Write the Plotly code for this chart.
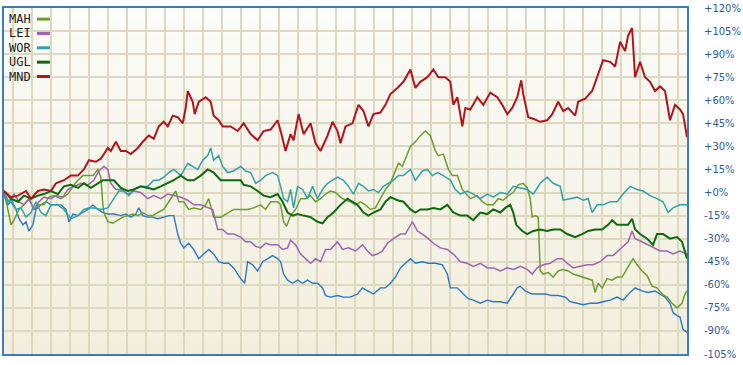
import plotly.graph_objects as go

# ---- data: x = trading-day index, y = % change ----
mnd_x = [1,8,15,23,28,35,41,48,53,61,68,75,81,86,93,98,105,108,113,118,123,128,135,140,146,151,156,161,165,170,175,180,183,185,190,192,196,203,208,211,216,220,228,235,241,248,255,261,268,275,278,283,288,291,296,301,308,313,318,325,330,335,338,343,350,356,361,366,371,378,383,388,395,401,408,413,418,425,431,436,443,448,451,455,460,463,468,475,481,488,495,500,505,510,515,519,521,526,531,538,545,550,556,561,566,573,576,583,590,595,601,608,613,618,623,626,630,633,638,643,648,653,658,663,668,673,678,681,685]
mnd_y = [1,-3,-2,1,-4,1,2,1,6,8,11,11,15,21,20,22,29,27,33,27,27,25,29,33,37,35,43,46,43,50,49,45,55,66,59,51,59,62,59,50,47,43,43,40,45,38,34,40,41,47,40,27,38,34,51,38,45,32,27,37,46,40,32,43,45,57,53,43,51,52,57,64,68,72,80,68,72,75,80,75,75,72,57,62,43,55,54,62,57,65,62,57,51,55,62,73,64,49,48,46,47,51,59,53,55,50,59,61,66,75,86,85,82,98,92,102,107,75,85,75,72,66,69,66,47,57,54,51,36]

ugl_x = [1,8,15,21,28,35,41,48,55,61,68,75,81,88,95,100,105,111,118,125,131,138,145,151,158,165,171,178,185,191,198,205,211,218,225,231,238,241,248,255,261,268,275,280,285,290,295,301,308,315,320,325,331,338,345,350,355,361,366,371,378,383,388,395,401,408,413,418,425,431,438,445,451,458,465,471,478,485,491,498,503,508,511,514,520,525,531,538,545,551,558,565,573,580,586,593,600,606,610,615,621,626,630,633,638,645,651,655,661,668,675,680,685]
ugl_y = [1,-4,-6,-2,-4,-2,-1,1,-1,4,5,3,6,3,6,8,8,8,3,1,2,4,3,2,4,6,8,11,8,8,11,15,13,8,8,8,8,5,4,1,-2,-3,-1,-6,-13,-15,-14,-15,-16,-19,-20,-16,-13,-8,-4,-6,-8,-13,-15,-13,-11,-6,-3,-5,-6,-11,-13,-11,-11,-10,-11,-8,-13,-15,-15,-18,-13,-14,-11,-13,-10,-8,-13,-21,-25,-27,-25,-24,-25,-24,-24,-27,-29,-27,-25,-24,-24,-21,-18,-21,-21,-21,-17,-24,-27,-30,-34,-27,-27,-30,-29,-32,-43]

wor_x = [1,5,8,13,18,23,28,33,38,43,48,55,61,68,75,81,86,91,98,105,111,116,121,126,131,138,145,151,156,161,166,171,178,185,190,195,200,205,208,211,216,220,225,231,238,243,248,253,258,263,270,275,278,281,285,288,291,295,300,305,310,315,320,325,330,335,341,346,351,356,361,366,371,376,381,386,391,396,401,408,413,420,425,430,435,441,448,453,458,465,471,478,485,491,498,505,511,518,525,531,538,545,551,558,561,568,575,581,586,590,595,601,608,615,621,628,635,641,648,655,661,666,671,678,685]
wor_y = [-2,-6,-4,-11,-10,-16,-13,-6,-13,-15,-8,-8,-11,-17,-15,-11,-10,-10,-11,-10,-4,1,1,-2,2,4,4,8,8,10,13,15,11,19,17,15,21,24,29,21,24,17,13,14,17,14,13,6,8,11,13,11,4,-4,-6,2,-10,4,2,-4,4,-4,2,6,8,10,8,4,-1,6,4,1,2,0,4,6,8,11,11,15,8,14,15,11,13,11,8,2,-1,1,-1,-4,-1,-3,0,-1,4,3,2,-1,6,10,6,4,-5,-4,-3,-5,-4,-13,-8,-8,-6,-6,-1,4,2,1,-2,-4,-6,-13,-10,-8,-8]

lei_x = [1,6,11,16,21,26,31,36,41,48,53,60,65,71,78,85,91,96,101,105,108,113,118,125,131,138,145,151,158,165,171,178,185,191,198,205,210,215,220,225,231,238,243,248,253,258,263,268,275,280,285,288,293,298,303,308,313,318,323,328,335,340,346,353,360,365,370,375,380,385,391,398,403,410,415,420,426,431,438,445,451,458,465,471,478,485,491,498,505,511,518,525,530,535,541,548,555,560,565,571,578,585,591,598,605,611,616,621,626,630,633,640,646,651,658,665,671,678,685]
lei_y = [0,-6,-1,-6,-8,-4,-11,-6,-3,-4,-2,-3,2,4,6,5,8,14,17,15,6,2,2,-1,1,0,-4,-2,-4,-1,-2,-3,-5,-8,-8,-10,-11,-24,-24,-27,-27,-29,-32,-32,-35,-36,-33,-34,-34,-37,-36,-31,-34,-40,-43,-46,-43,-45,-37,-37,-32,-37,-36,-38,-34,-38,-41,-40,-38,-33,-30,-27,-27,-19,-25,-27,-30,-33,-36,-37,-40,-45,-46,-48,-46,-49,-49,-51,-49,-50,-48,-50,-53,-49,-47,-46,-43,-43,-46,-49,-48,-47,-47,-45,-41,-41,-38,-35,-32,-25,-30,-32,-34,-36,-38,-38,-40,-38,-40]

mah_x = [1,5,8,11,16,21,26,31,36,41,46,51,58,65,70,75,80,85,90,95,98,100,101,105,110,115,120,125,130,135,140,145,150,155,161,166,170,173,176,181,186,191,198,203,206,211,218,225,231,238,245,251,258,263,268,275,278,281,284,288,293,298,303,308,313,318,323,328,333,338,343,348,353,358,363,368,373,378,383,388,393,396,400,403,408,413,418,423,428,433,436,441,446,450,455,460,465,468,475,480,485,491,496,501,506,511,516,521,525,528,530,533,536,538,541,546,551,556,561,566,571,576,581,586,590,593,596,600,605,610,615,620,625,628,631,635,640,645,650,655,660,665,670,675,680,683,685]
mah_y = [1,-13,-21,-18,-11,-8,-4,-11,-8,-8,-3,-2,-4,-1,4,8,11,11,11,15,10,-8,-13,-19,-20,-18,-16,-15,-14,-15,-13,-15,-15,-13,-11,-6,-2,1,-6,-6,-11,-10,-11,-8,-4,-16,-16,-13,-11,-11,-11,-10,-8,-11,-6,-6,-8,-19,-22,-15,-11,-4,-4,-2,-6,-4,-1,1,0,-3,-5,-6,-8,-6,-8,-11,-10,-4,2,6,14,19,17,22,30,33,37,40,37,27,24,25,15,11,11,2,-2,-4,-2,-6,-8,-8,-4,-5,-2,0,5,6,3,-4,-16,-15,-16,-51,-53,-52,-55,-51,-50,-51,-53,-54,-55,-56,-57,-65,-59,-62,-56,-57,-55,-55,-49,-46,-43,-47,-51,-54,-61,-62,-66,-68,-72,-75,-72,-66,-64]

idx_x = [1,5,8,13,16,20,23,26,30,33,38,43,48,53,58,63,66,70,75,80,85,90,95,100,105,111,118,123,128,133,136,140,145,150,155,161,166,171,175,178,181,186,191,196,201,206,211,216,221,226,231,235,238,242,245,250,255,260,265,270,275,278,281,285,290,295,300,305,310,315,320,323,328,335,341,348,355,360,365,371,378,383,388,393,398,403,408,413,420,426,433,440,445,448,455,461,466,471,478,485,491,498,505,510,515,518,523,530,536,543,550,556,563,568,575,581,588,595,601,608,615,621,628,633,640,646,653,658,663,668,671,675,678,681,685]
idx_y = [-2,-8,-6,-11,-17,-21,-19,-25,-21,-11,-8,-6,-8,-8,-8,-11,-19,-14,-15,-13,-11,-8,-11,-13,-14,-14,-15,-14,-16,-14,-10,-15,-16,-16,-17,-16,-15,-15,-27,-33,-36,-33,-37,-43,-40,-37,-40,-45,-46,-46,-49,-53,-56,-59,-45,-47,-51,-45,-43,-41,-43,-45,-53,-57,-59,-57,-59,-57,-59,-59,-62,-67,-68,-67,-68,-68,-66,-62,-64,-66,-62,-62,-59,-55,-49,-46,-43,-46,-45,-46,-46,-47,-53,-62,-62,-66,-69,-70,-72,-70,-71,-71,-72,-67,-62,-61,-64,-66,-66,-66,-67,-67,-68,-71,-72,-73,-72,-72,-71,-70,-68,-70,-65,-62,-64,-65,-64,-66,-68,-72,-78,-80,-81,-89,-91]

tick_vals = [120, 105, 90, 75, 60, 45, 30, 15, 0, -15, -30, -45, -60, -75, -90, -105]
tick_text = ["+120%", "+105%", "+90%", "+75%", "+60%", "+45%", "+30%", "+15%", "+0%",
             "-15%", "-30%", "-45%", "-60%", "-75%", "-90%", "-105%"]
legend_names = ["MAH", "LEI", "WOR", "UGL", "MND"]

colors = {"MAH": "#6b9e2c", "LEI": "#a063b3", "WOR": "#31a2a8",
          "UGL": "#0d6a0d", "MND": "#b3141c", "IDX": "#2b78c9"}

fig = go.Figure()
series = [("IDX", idx_x, idx_y, 1.4), ("MAH", mah_x, mah_y, 1.5), ("LEI", lei_x, lei_y, 1.5),
          ("WOR", wor_x, wor_y, 1.5), ("UGL", ugl_x, ugl_y, 2.0), ("MND", mnd_x, mnd_y, 2.0)]
for name, xs, ys, w in series:
    fig.add_trace(go.Scatter(x=xs, y=ys, mode="lines", name=name, showlegend=False,
                             line=dict(color=colors[name], width=w), hoverinfo="skip"))

# background gradient (cream, lighter at top)
top = (252, 252, 249)
bot = (241, 238, 220)
nb = 24
shapes = []
for i in range(nb):
    t = (i + 0.5) / nb
    c = tuple(round(top[k] + (bot[k] - top[k]) * t) for k in range(3))
    shapes.append(dict(type="rect", xref="paper", yref="paper", x0=0, x1=1,
                       y0=1 - (i + 1) / nb, y1=1 - i / nb + 0.001, layer="below",
                       line=dict(width=0), fillcolor="rgb(%d,%d,%d)" % c))

# legend: text then colored dash, inside top-left
annotations = []
plot_h = 365 - 2 - 11
for i, nm in enumerate(legend_names):
    ypx = 13.3 + 14.6 * i
    yp = 1 - (ypx - 2) / plot_h
    annotations.append(dict(x=0, xref="paper", y=yp, yref="paper", xanchor="left", yanchor="middle",
                            xshift=3, text=nm, showarrow=False,
                            font=dict(family="DejaVu Sans Mono", size=12, color="#222222")))
    shapes.append(dict(type="line", xref="paper", yref="paper",
                       x0=(36 - 3) / 684, x1=(49 - 3) / 684, y0=yp, y1=yp,
                       line=dict(color=colors[nm], width=3), layer="above"))

grid_x = [9.7 + 19.05 * k for k in range(36)]

fig.update_layout(
    width=743, height=365,
    margin=dict(l=3, r=56, t=2, b=11),
    paper_bgcolor="white",
    plot_bgcolor="#f6f4e8",
    shapes=shapes,
    annotations=annotations,
    xaxis=dict(range=[1, 685], tickvals=grid_x, showticklabels=False, ticks="",
               showgrid=True, gridcolor="#ddd8bf", gridwidth=2, zeroline=False,
               showline=True, mirror=True, linecolor="#3a7cc3", linewidth=2),
    yaxis=dict(range=[-105, 120], side="right", tickvals=tick_vals, ticktext=tick_text,
               ticks="", ticklabelstandoff=13, ticklabeloverflow="allow",
               tickfont=dict(family="DejaVu Sans", size=10, color="#2c5a9e"),
               showgrid=True, gridcolor="#ddd8bf", gridwidth=2, zeroline=False,
               showline=True, mirror=True, linecolor="#3a7cc3", linewidth=2),
)

fig.write_html("out.html")
